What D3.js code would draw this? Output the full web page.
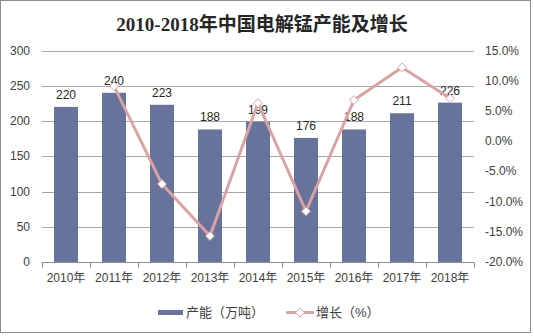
<!DOCTYPE html>
<html><head><meta charset="utf-8">
<script src="https://cdn.jsdelivr.net/npm/d3@7"></script>
<style>body{margin:0;background:#fff;}svg{display:block;}</style>
</head><body>
<svg id="c" width="534" height="336"></svg>
<script>
const years = ["2010年","2011年","2012年","2013年","2014年","2015年","2016年","2017年","2018年"];
const capacity = [220,240,223,188,199,176,188,211,226];
const growth = [null,9.1,-7.1,-15.7,6.3,-11.6,6.8,12.2,7.1];
const leftTicks = [0,50,100,150,200,250,300];
const rightTicks = [-20,-15,-10,-5,0,5,10,15];
const title = "2010-2018年中国电解锰产能及增长";
const legendLabels = ["产能（万吨）","增长（%）"];

const svg = d3.select("#c");
const font = "'Liberation Sans', Arial, 'Noto Sans CJK SC', sans-serif";
svg.append("rect").attr("x",0.5).attr("y",0.5).attr("width",530).attr("height",332)
  .attr("fill","#fff").attr("stroke","#8c8c8c").attr("stroke-width",1);

const L=42, R=474, T=50.5, B=262;
const x = d3.scaleBand().domain(years).range([L,R]).paddingInner(0.5).paddingOuter(0.25);
const y = d3.scaleLinear().domain([0,300]).range([B,T]);
const y2 = d3.scaleLinear().domain([-20,15]).range([B,T]);

svg.append("text").attr("x",262).attr("y",31).attr("text-anchor","middle")
  .style("font-family","'Liberation Serif','Noto Sans CJK SC',serif").style("font-weight","bold")
  .style("font-size","19px").attr("fill","#262626").text(title);

// gridlines
svg.append("g").selectAll("line").data(leftTicks.filter(d=>d>0)).join("line")
  .attr("x1",L).attr("x2",R).attr("y1",d=>Math.round(y(d))+0.5).attr("y2",d=>Math.round(y(d))+0.5)
  .attr("stroke","#a6a6a6").attr("stroke-width",1);

// left axis labels
svg.append("g").selectAll("text").data(leftTicks).join("text")
  .attr("x",30).attr("y",d=>y(d)+4).attr("text-anchor","end")
  .style("font-family",font).style("font-size","12px").attr("fill","#404040").text(d=>d);
// right axis labels
svg.append("g").selectAll("text").data(rightTicks).join("text")
  .attr("x",485).attr("y",d=>y2(d)+4).attr("text-anchor","start")
  .style("font-family",font).style("font-size","12px").attr("fill","#404040").text(d=>d.toFixed(1)+"%");

// bars
svg.append("g").selectAll("rect").data(capacity).join("rect")
  .attr("x",(d,i)=>x(years[i])).attr("width",x.bandwidth())
  .attr("y",d=>y(d)).attr("height",d=>B-y(d)).attr("fill","#67739a");

// x axis
const xa = d3.axisBottom(x).tickSize(0).tickFormat(d=>d);
const gx = svg.append("g").attr("transform",`translate(0,${B+0.5})`);
gx.append("line").attr("x1",L).attr("x2",R).attr("stroke","#8c8c8c");
const step = x.step();
gx.selectAll("line.t").data(d3.range(years.length+1)).join("line").attr("class","t")
  .attr("x1",i=>Math.round(L+i*(R-L)/years.length)+0.5).attr("x2",i=>Math.round(L+i*(R-L)/years.length)+0.5)
  .attr("y1",0).attr("y2",5).attr("stroke","#8c8c8c");
gx.selectAll("text").data(years).join("text")
  .attr("x",d=>x(d)+x.bandwidth()/2).attr("y",19).attr("text-anchor","middle")
  .style("font-family",font).style("font-size","12px").attr("fill","#404040").text(d=>d);

// data labels
svg.append("g").selectAll("text").data(capacity).join("text")
  .attr("x",(d,i)=>x(years[i])+x.bandwidth()/2).attr("y",d=>y(d)-8).attr("text-anchor","middle")
  .style("font-family",font).style("font-size","12px").attr("fill","#262626").text(d=>d);

// line
const pts = growth.map((g,i)=>({g,i})).filter(d=>d.g!==null);
const cx = d=>x(years[d.i])+x.bandwidth()/2;
svg.append("path").datum(pts)
  .attr("d",d3.line().x(cx).y(d=>y2(d.g)))
  .attr("fill","none").attr("stroke","#d9a3a3").attr("stroke-width",3).attr("stroke-linejoin","round");
const diamond = d3.symbol().type(d3.symbolDiamond2).size(50);
svg.append("g").selectAll("path").data(pts).join("path")
  .attr("d",diamond).attr("transform",d=>`translate(${cx(d)},${y2(d.g)})`)
  .attr("fill","#fff").attr("stroke","#d9a3a3").attr("stroke-width",1);

// legend
const lg = svg.append("g");
lg.append("rect").attr("x",158).attr("y",310).attr("width",25).attr("height",5).attr("fill","#67739a");
lg.append("text").attr("x",186).attr("y",317).style("font-family",font).style("font-size","13px").attr("fill","#404040").text(legendLabels[0]);
lg.append("line").attr("x1",286).attr("x2",314).attr("y1",312.5).attr("y2",312.5).attr("stroke","#d9a3a3").attr("stroke-width",3);
lg.append("path").attr("d",diamond).attr("transform","translate(300,312.5)").attr("fill","#fff").attr("stroke","#d9a3a3");
lg.append("text").attr("x",316).attr("y",317).style("font-family",font).style("font-size","13px").attr("fill","#404040").text(legendLabels[1]);
</script>
</body></html>
